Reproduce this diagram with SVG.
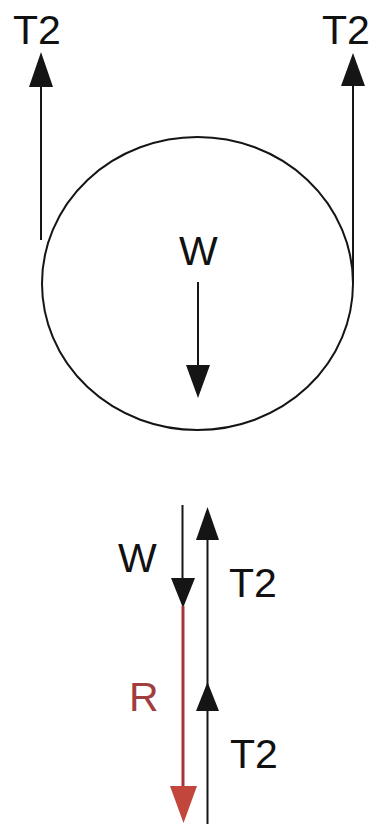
<svg xmlns="http://www.w3.org/2000/svg" width="371" height="824" viewBox="0 0 371 824">
<style>
.lbl{font-family:"Liberation Sans",Arial,sans-serif;font-size:41px;fill:#111}
.red{fill:#a23d3d}
.ln{stroke:#151515;stroke-width:2;fill:none}
.rln{stroke:#a8323a;stroke-width:3;fill:none}
.hd{fill:#151515}
.rhd{fill:#c2463c}
</style>
<rect width="371" height="824" fill="#fff"/>
<g id="pulley">
<ellipse cx="197.5" cy="283.5" rx="155.5" ry="146.5" class="ln" stroke-width="2.2"/>
</g>
<g id="connectors">
<line x1="41" y1="86" x2="41" y2="240" class="ln"/>
<polygon points="41,52 29,87 53,87" class="hd"/>
<line x1="353" y1="85" x2="353" y2="282" class="ln"/>
<polygon points="353,53 341,86 365,86" class="hd"/>
<line x1="198" y1="282" x2="198" y2="366" class="ln"/>
<polygon points="186,365 210,365 198,398" class="hd"/>
<line x1="182.5" y1="505" x2="182.5" y2="580" class="ln"/>
<polygon points="171,578 195,578 183,608" class="hd"/>
<line x1="183" y1="606" x2="183" y2="788" class="rln"/>
<polygon points="170,786 197,786 183.5,823" class="rhd"/>
<line x1="207.5" y1="538" x2="207.5" y2="824" class="ln"/>
<polygon points="207.5,507 196,540 219,540" class="hd"/>
<polygon points="207.5,682 196,711 219,711" class="hd"/>
</g>
<g id="labels">
<text x="13" y="44" class="lbl">T2</text>
<text x="322" y="44" class="lbl">T2</text>
<text x="179" y="265" class="lbl">W</text>
<text x="118" y="572" class="lbl">W</text>
<text x="229" y="597" class="lbl">T2</text>
<text x="129" y="711" class="lbl red">R</text>
<text x="230" y="768" class="lbl">T2</text>
</g>
</svg>
